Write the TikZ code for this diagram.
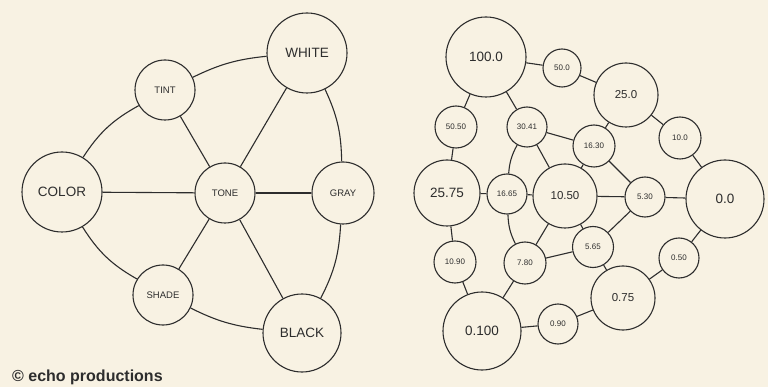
\documentclass[tikz,border=0pt]{standalone}
\usepackage{fontspec}
\setmainfont{Liberation Sans}
\definecolor{paper}{RGB}{248,242,227}
\definecolor{ink}{RGB}{45,45,45}
\tikzset{
  bub/.style={circle,draw=ink,line width=1.1pt,inner sep=0pt,text=ink},
  big/.style={bub,font=\fontsize{13.5}{14}\selectfont},
  med/.style={bub,font=\fontsize{11.5}{12}\selectfont},
  sml/.style={bub,font=\fontsize{9.5}{10}\selectfont},
  tiny/.style={bub,font=\fontsize{8}{9}\selectfont},
  ln/.style={draw=ink,line width=1.1pt},
}
\begin{document}
\begin{tikzpicture}[x=1pt,y=-1pt]
\fill[paper] (0,0) rectangle (768,387);
\useasboundingbox (0,0) rectangle (768,387);
% left graph
\node[big,minimum size=80pt] (white) at (307,53) {WHITE};
\node[sml,minimum size=60pt] (tint) at (165,90) {TINT};
\node[big,minimum size=80pt] (color) at (62,192) {COLOR};
\node[sml,minimum size=60pt] (tone) at (225,193) {TONE};
\node[sml,minimum size=62pt] (gray) at (343,193) {GRAY};
\node[sml,minimum size=60pt] (shade) at (163,295) {SHADE};
\node[big,minimum size=78pt] (black) at (302,333) {BLACK};
\draw[ln] (color) to[bend left=14] (tint);
\draw[ln] (tint) to[bend left=10] (white);
\draw[ln] (white) to[bend left=12] (gray);
\draw[ln] (gray) to[bend left=12] (black);
\draw[ln] (black) to[bend left=10] (shade);
\draw[ln] (shade) to[bend left=14] (color);
\draw[ln] (color) -- (tone);
\draw[ln] (tone) -- (tint);
\draw[ln] (tone) -- (white);
\draw[ln] (tone) -- (gray);
\draw[ln] (tone) -- (black);
\draw[ln] (tone) -- (shade);
% right graph
\node[big,minimum size=80pt] (a100) at (486,57) {100.0};
\node[tiny,minimum size=38pt] (a500) at (562,68) {50.0};
\node[med,minimum size=64pt] (a250) at (626,95) {25.0};
\node[tiny,minimum size=42pt] (a5050) at (456,127) {50.50};
\node[tiny,minimum size=40pt] (a3041) at (527,127) {30.41};
\node[tiny,minimum size=42pt] (a1630) at (594,146) {16.30};
\node[tiny,minimum size=42pt] (a100b) at (680,138) {10.0};
\node[big,minimum size=66pt] (a2575) at (447,193) {25.75};
\node[tiny,minimum size=40pt] (a1665) at (507,194) {16.65};
\node[med,minimum size=64pt] (a1050) at (565,196) {10.50};
\node[tiny,minimum size=40pt] (a530) at (645,197) {5.30};
\node[big,minimum size=78pt] (a00) at (725,199) {0.0};
\node[tiny,minimum size=42pt] (a1090) at (455,262) {10.90};
\node[tiny,minimum size=42pt] (a780) at (525,263) {7.80};
\node[tiny,minimum size=41pt] (a565) at (593,247) {5.65};
\node[tiny,minimum size=40pt] (a050) at (679,258) {0.50};
\node[med,minimum size=64pt] (a075) at (623,298) {0.75};
\node[big,minimum size=78pt] (a0100) at (482,331) {0.100};
\node[tiny,minimum size=40pt] (a090) at (558,324) {0.90};
\draw[ln] (a100) -- (a500);
\draw[ln] (a500) -- (a250);
\draw[ln] (a100) -- (a5050);
\draw[ln] (a100) -- (a3041);
\draw[ln] (a250) -- (a1630);
\draw[ln] (a250) -- (a100b);
\draw[ln] (a100b) -- (a00);
\draw[ln] (a5050) -- (a2575);
\draw[ln] (a3041) -- (a1630);
\draw[ln] (a3041) to[bend right=12] (a1665);
\draw[ln] (a3041) -- (a1050);
\draw[ln] (a1630) -- (a1050);
\draw[ln] (a1630) -- (a530);
\draw[ln] (a2575) -- (a1665);
\draw[ln] (a1665) -- (a1050);
\draw[ln] (a1050) -- (a530);
\draw[ln] (a530) -- (a00);
\draw[ln] (a2575) -- (a1090);
\draw[ln] (a1665) to[bend right=12] (a780);
\draw[ln] (a1050) -- (a780);
\draw[ln] (a1050) -- (a565);
\draw[ln] (a780) -- (a565);
\draw[ln] (a530) -- (a565);
\draw[ln] (a565) -- (a075);
\draw[ln] (a00) -- (a050);
\draw[ln] (a050) -- (a075);
\draw[ln] (a1090) -- (a0100);
\draw[ln] (a780) -- (a0100);
\draw[ln] (a0100) -- (a090);
\draw[ln] (a090) -- (a075);
\node[anchor=base west,inner sep=0pt,font=\bfseries\fontsize{16}{17}\selectfont,text=ink] (copy) at (12,381) {© echo productions};
\end{tikzpicture}
\end{document}
